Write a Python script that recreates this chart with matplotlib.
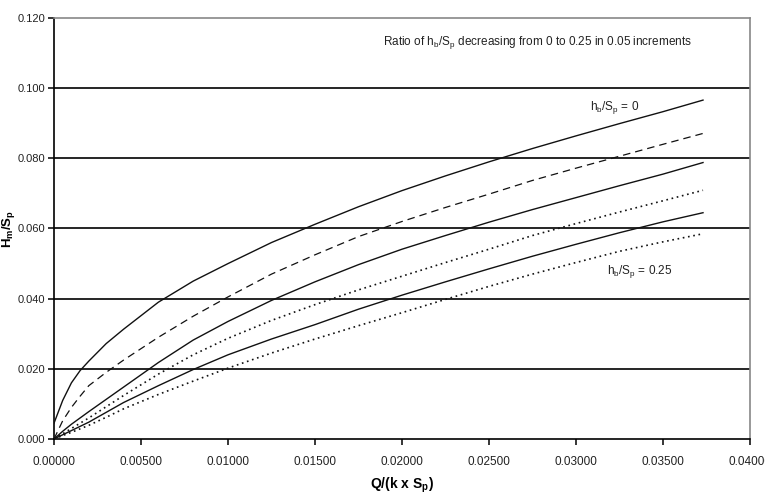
import matplotlib
matplotlib.use("Agg")
import matplotlib.pyplot as plt
import numpy as np

plt.rcParams['font.family'] = ['Liberation Sans', 'DejaVu Sans']
plt.rcParams['mathtext.default'] = 'regular'

# Q/(k x Sp) sample points
q = [0, 0.0005, 0.001, 0.0015, 0.002, 0.003, 0.004, 0.006, 0.008, 0.010, 0.0125, 0.015,
     0.0175, 0.020, 0.0225, 0.025, 0.0275, 0.030, 0.0325, 0.035, 0.0373]

# Hm/Sp for hb/Sp = 0, 0.05, 0.10, 0.15, 0.20, 0.25
hm_000 = [0.0045, 0.0110, 0.0160, 0.0195, 0.0222, 0.0272, 0.0313, 0.0390, 0.0450, 0.0500,
          0.0560, 0.0612, 0.0662, 0.0708, 0.0750, 0.0790, 0.0828, 0.0864, 0.0899, 0.0933, 0.0966]
hm_005 = [0.0, 0.0052, 0.0090, 0.0122, 0.0152, 0.0190, 0.0225, 0.0290, 0.0350, 0.0405,
          0.0470, 0.0525, 0.0577, 0.0620, 0.0660, 0.0698, 0.0737, 0.0772, 0.0806, 0.0840, 0.0871]
hm_010 = [0.0, 0.0022, 0.0042, 0.0060, 0.0078, 0.0113, 0.0148, 0.0218, 0.0282, 0.0335,
          0.0395, 0.0448, 0.0497, 0.0541, 0.0580, 0.0618, 0.0654, 0.0688, 0.0722, 0.0755, 0.0788]
hm_015 = [0.0, 0.0015, 0.0030, 0.0045, 0.0060, 0.0092, 0.0124, 0.0185, 0.0240, 0.0287,
          0.0338, 0.0383, 0.0425, 0.0464, 0.0503, 0.0541, 0.0580, 0.0614, 0.0647, 0.0679, 0.0709]
hm_020 = [0.0, 0.0012, 0.0024, 0.0036, 0.0048, 0.0076, 0.0104, 0.0152, 0.0198, 0.0240,
          0.0285, 0.0326, 0.0370, 0.0410, 0.0448, 0.0485, 0.0521, 0.0555, 0.0588, 0.0619, 0.0645]
hm_025 = [0.0, 0.0010, 0.0019, 0.0029, 0.0039, 0.0062, 0.0086, 0.0127, 0.0165, 0.0202,
          0.0245, 0.0285, 0.0323, 0.0360, 0.0398, 0.0435, 0.0470, 0.0503, 0.0535, 0.0562, 0.0585]

x_ticks = [0.0, 0.005, 0.010, 0.015, 0.020, 0.025, 0.030, 0.035, 0.040]
y_ticks = [0.0, 0.02, 0.04, 0.06, 0.08, 0.10, 0.12]

fig = plt.figure(figsize=(7.65, 4.94), dpi=100)
ax = fig.add_axes([54/765, 55/494, 696/765, 421/494])

for yv in y_ticks[1:-1]:
    ax.axhline(yv, color='black', lw=1.2, zorder=1)

lc = '#111111'
ax.plot(q, hm_000, color=lc, lw=1.0, zorder=3)
ax.plot(q, hm_005, color=lc, lw=0.9, dashes=(6, 4), zorder=3)
ax.plot(q, hm_010, color=lc, lw=1.0, zorder=3)
ax.plot(q, hm_015, color=lc, lw=1.2, dashes=(1.0, 2.2), zorder=3)
ax.plot(q, hm_020, color=lc, lw=1.0, zorder=3)
ax.plot(q, hm_025, color=lc, lw=1.2, dashes=(1.0, 2.2), zorder=3)

ax.set_xlim(0, 0.04)
ax.set_ylim(0, 0.12)
ax.set_xticks(x_ticks)
ax.set_xticklabels([f"{v:.5f}" for v in x_ticks])
ax.set_yticks(y_ticks)
ax.set_yticklabels([f"{v:.3f}" for v in y_ticks])
ax.tick_params(axis='both', direction='out', length=4, width=1.1, colors='black',
               labelsize=8.5, labelcolor='#222222')
ax.tick_params(axis='x', pad=8)
ax.tick_params(axis='y', labelsize=8, pad=2.5)

for s in ['left', 'bottom']:
    ax.spines[s].set_color('black')
    ax.spines[s].set_linewidth(1.2)
for s in ['top', 'right']:
    ax.spines[s].set_color('#888888')
    ax.spines[s].set_linewidth(1.2)

ax.set_xlabel('Q/(k x S$_p$)', fontsize=10, fontweight='bold', labelpad=6)
ax.set_ylabel('H$_m$/S$_p$', fontsize=9.5, fontweight='bold')
ax.yaxis.set_label_coords(-0.0535, 0.5)

ax.text(0.0189, 0.1131, 'Ratio of h$_b$/S$_p$ decreasing from 0 to 0.25 in 0.05 increments',
        fontsize=8.5, color='#222222', va='center', ha='left')
ax.text(0.0308, 0.0946, 'h$_b$/S$_p$ = 0', fontsize=8.5, color='#222222', va='center', ha='left')
ax.text(0.0318, 0.0478, 'h$_b$/S$_p$ = 0.25', fontsize=8.5, color='#222222', va='center', ha='left')

fig.savefig('out.png', dpi=100)
